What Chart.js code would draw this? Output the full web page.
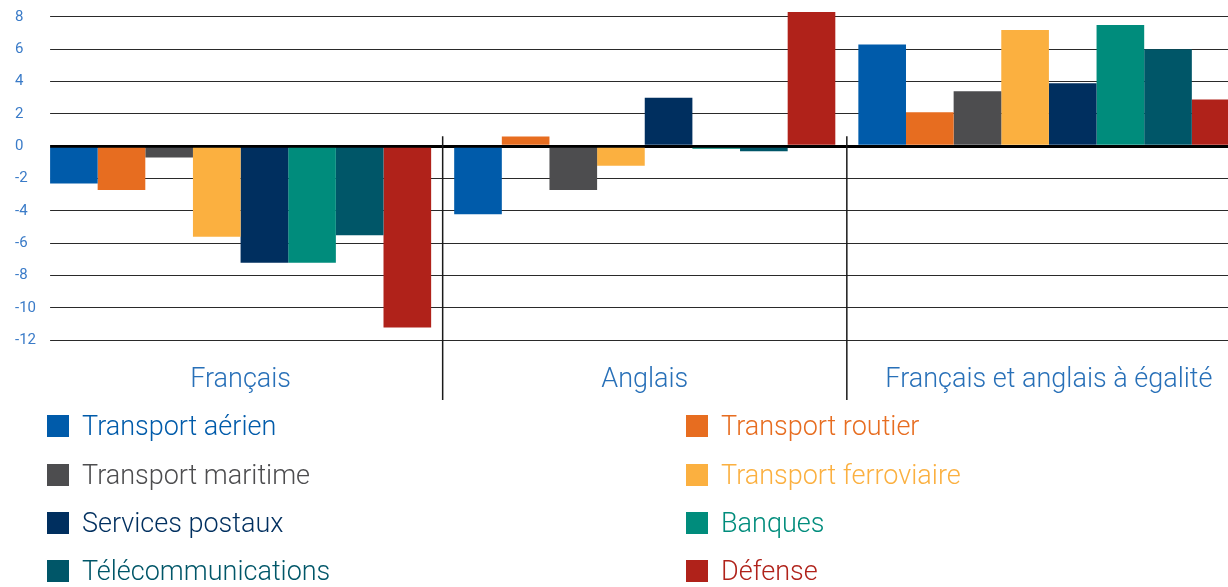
<!DOCTYPE html>
<html>
<head>
<meta charset="utf-8">
<script src="https://cdn.jsdelivr.net/npm/chart.js@4"></script>
<style>
html,body{margin:0;padding:0;background:#fff;overflow:hidden;width:1228px;height:587px;}
#chartBox{position:absolute;left:0;top:0;width:1251px;height:400px;}
#legend{position:absolute;left:0;top:0;width:1228px;height:587px;font-family:Roboto,"Open Sans",sans-serif;font-weight:300;font-size:27px;}
.item{position:absolute;height:22px;line-height:22px;white-space:nowrap;}
.sw{position:absolute;left:0;top:0;width:22px;height:22px;}
.tx{position:absolute;left:35px;top:0;}
</style>
</head>
<body>
<div id="chartBox"><canvas id="c" width="1251" height="400"></canvas></div>
<div id="legend"></div>
<script>
// ---- data ----
const categories = ['Français', 'Anglais', 'Français et anglais à égalité'];
const seriesNames = ['Transport aérien', 'Transport routier', 'Transport maritime', 'Transport ferroviaire',
                     'Services postaux', 'Banques', 'Télécommunications', 'Défense'];
const seriesColors = ['#005BAA', '#E76D20', '#4D4D4F', '#FBB040', '#002F5F', '#008C7C', '#005668', '#B0221A'];
const transportAerien      = [-2.3, -4.2, 6.3];
const transportRoutier     = [-2.7,  0.6, 2.1];
const transportMaritime    = [-0.7, -2.7, 3.4];
const transportFerroviaire = [-5.6, -1.2, 7.2];
const servicesPostaux      = [-7.2,  3.0, 3.9];
const banques              = [-7.2, -0.15, 7.5];
const telecommunications   = [-5.5, -0.3, 6.0];
const defense              = [-11.2, 8.3, 2.9];
const yTicks = [-12, -10, -8, -6, -4, -2, 0, 2, 4, 6, 8];

const seriesData = [transportAerien, transportRoutier, transportMaritime, transportFerroviaire,
                    servicesPostaux, banques, telecommunications, defense];

const FONT = 'Roboto, "Open Sans", sans-serif';

const decorPlugin = {
  id: 'decor',
  afterDraw(chart) {
    const {ctx, chartArea, scales} = chart;
    const x = scales.x, y = scales.y;
    ctx.save();
    // blank the small strip left of the first bar group (gridlines start at the bars)
    ctx.fillStyle = '#fff';
    ctx.fillRect(chartArea.left - 1, chartArea.top - 2, x.getPixelForTick(0) - 190.5 - chartArea.left + 1, chartArea.bottom - chartArea.top + 4);
    // category separators
    const zeroY = y.getPixelForValue(0);
    ctx.strokeStyle = '#1a1a1a';
    ctx.lineWidth = 1.5;
    for (let i = 0; i < categories.length - 1; i++) {
      const px = (x.getPixelForTick(i) + x.getPixelForTick(i + 1)) / 2;
      ctx.beginPath();
      ctx.moveTo(px, zeroY - 10);
      ctx.lineTo(px, chart.height);
      ctx.stroke();
    }
    ctx.restore();
  }
};

new Chart(document.getElementById('c'), {
  type: 'bar',
  data: {
    labels: categories,
    datasets: seriesNames.map((n, i) => ({
      label: n,
      data: seriesData[i],
      backgroundColor: seriesColors[i],
      borderWidth: 0,
      categoryPercentage: 0.943,
      barPercentage: 1.0
    }))
  },
  options: {
    responsive: false,
    animation: false,
    layout: {padding: {left: 15, right: 0, top: 10.5, bottom: 0}},
    plugins: {legend: {display: false}, tooltip: {enabled: false}},
    scales: {
      x: {
        grid: {display: false, drawTicks: false},
        border: {display: false},
        ticks: {color: '#2870B8', font: {family: FONT, size: 27, weight: 300}, padding: 15.5, maxRotation: 0, autoSkip: false},
        afterFit: s => { s.height = 51.6; }
      },
      y: {
        min: -12.5,
        max: 8.4,
        z: 1,
        afterBuildTicks: a => { a.ticks = yTicks.map(v => ({value: v})); },
        afterFit: s => { s.width = 23.5; },
        grid: {
          color: c => (c.tick && c.tick.value === 0) ? '#000' : '#2a2a2a',
          lineWidth: c => (c.tick && c.tick.value === 0) ? 3 : 1,
          drawTicks: false
        },
        border: {display: false},
        ticks: {color: '#3A7BC8', font: {family: FONT, size: 15}, crossAlign: 'far', padding: 0}
      }
    }
  },
  plugins: [decorPlugin]
});

// ---- legend (two columns, row-major order) ----
const legend = document.getElementById('legend');
const colX = [47, 686];
const rowY = [415, 464, 512, 560];
seriesNames.forEach((n, i) => {
  const d = document.createElement('div');
  d.className = 'item';
  d.style.left = colX[i % 2] + 'px';
  d.style.top = rowY[Math.floor(i / 2)] + 'px';
  const s = document.createElement('span');
  s.className = 'sw';
  s.style.background = seriesColors[i];
  const t = document.createElement('span');
  t.className = 'tx';
  t.style.color = seriesColors[i];
  t.textContent = n;
  d.appendChild(s); d.appendChild(t);
  legend.appendChild(d);
});
</script>
</body>
</html>
